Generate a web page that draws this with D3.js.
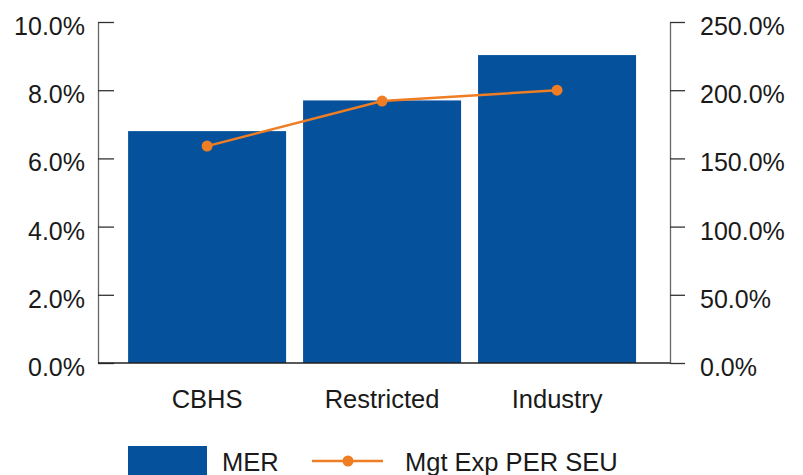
<!DOCTYPE html>
<html>
<head>
<meta charset="utf-8">
<script src="https://cdn.jsdelivr.net/npm/d3@7"></script>
<style>
  body { margin: 0; background: #fff; }
  svg text { font-family: "Liberation Sans", Arial, sans-serif; fill: #1a1a1a; }
</style>
</head>
<body>
<div id="chart-area"></div>
<script>

// Chart data
var categories = ["CBHS", "Restricted", "Industry"];
var merValues = [6.8, 7.7, 9.03];          // left axis, %
var mgtExpValues = [159, 192, 200];        // right axis, %
var leftTicks = [0, 2, 4, 6, 8, 10];
var rightTicks = [0, 50, 100, 150, 200, 250];
var seriesNames = ["MER", "Mgt Exp PER SEU"];

var width = 803,
	height = 475;

var blue = "#05519b",
	orange = "#ee7d24";

var svg = d3.select("#chart-area").append("svg")
	.attr("width", width)
	.attr("height", height);

// plot area edges
var plotLeft = 98, plotRight = 670, plotTop = 22, plotBottom = 363;

var x = d3.scaleBand()
	.domain(categories)
	.range([plotLeft, plotRight])
	.paddingInner(0.097)
	.paddingOuter(0.183)
	.align(0.47);

var yLeft = d3.scaleLinear().domain([0, 10]).range([plotBottom, plotTop]);
var yRight = d3.scaleLinear().domain([0, 250]).range([plotBottom, plotTop]);

var fmt = function(d) { return d3.format(".1f")(d) + "%"; };

// Bars
svg.selectAll("rect.bar")
	.data(merValues)
	.enter()
	.append("rect")
	.attr("class", "bar")
	.attr("x", function(d, i) { return x(categories[i]); })
	.attr("y", function(d) { return yLeft(d); })
	.attr("width", x.bandwidth())
	.attr("height", function(d) { return yLeft(0) - yLeft(d); })
	.attr("fill", blue);

// Left axis (ticks point into the plot)
var leftAxis = svg.append("g")
	.attr("transform", "translate(" + plotLeft + ",0)")
	.call(d3.axisLeft(yLeft).tickValues(leftTicks).tickFormat(fmt)
		.tickSize(-16).tickSizeOuter(0).tickPadding(13));

// Right axis
var rightAxis = svg.append("g")
	.attr("transform", "translate(" + plotRight + ",0)")
	.call(d3.axisRight(yRight).tickValues(rightTicks).tickFormat(fmt)
		.tickSize(15).tickSizeOuter(0).tickPadding(15));

[leftAxis, rightAxis].forEach(function(g) {
	g.select(".domain").attr("stroke", "#666").attr("stroke-width", 1.3);
	g.selectAll(".tick line").attr("stroke", "#333").attr("stroke-width", 1.3);
	g.selectAll(".tick text")
		.attr("font-size", "25px")
		.attr("fill", "#1a1a1a")
		.attr("dy", "0.5em")
		.style("font-family", "'Liberation Sans', Arial, sans-serif");
});

// Baseline
svg.append("line")
	.attr("x1", plotLeft)
	.attr("x2", plotRight)
	.attr("y1", yLeft(0))
	.attr("y2", yLeft(0))
	.attr("stroke", "#222")
	.attr("stroke-width", 1.5);

// Category labels
svg.selectAll("text.cat")
	.data(categories)
	.enter()
	.append("text")
	.attr("class", "cat")
	.attr("x", function(d) { return x(d) + x.bandwidth() / 2; })
	.attr("y", 408)
	.attr("text-anchor", "middle")
	.attr("font-size", "25.5px")
	.text(function(d) { return d; });

// Line series
var line = d3.line()
	.x(function(d, i) { return x(categories[i]) + x.bandwidth() / 2; })
	.y(function(d) { return yRight(d); });

svg.append("path")
	.datum(mgtExpValues)
	.attr("d", line)
	.attr("fill", "none")
	.attr("stroke", orange)
	.attr("stroke-width", 2.5);

svg.selectAll("circle.pt")
	.data(mgtExpValues)
	.enter()
	.append("circle")
	.attr("class", "pt")
	.attr("cx", function(d, i) { return x(categories[i]) + x.bandwidth() / 2; })
	.attr("cy", function(d) { return yRight(d); })
	.attr("r", 5.5)
	.attr("fill", orange);

// Legend
var legend = svg.append("g");

legend.append("rect")
	.attr("x", 128)
	.attr("y", 446)
	.attr("width", 79)
	.attr("height", 40)
	.attr("fill", blue);

legend.append("text")
	.attr("x", 222)
	.attr("y", 471)
	.attr("font-size", "25.5px")
	.text(seriesNames[0]);

legend.append("line")
	.attr("x1", 312)
	.attr("x2", 383)
	.attr("y1", 461)
	.attr("y2", 461)
	.attr("stroke", orange)
	.attr("stroke-width", 2.5);

legend.append("circle")
	.attr("cx", 348)
	.attr("cy", 461)
	.attr("r", 5.5)
	.attr("fill", orange);

legend.append("text")
	.attr("x", 405)
	.attr("y", 471)
	.attr("font-size", "25.5px")
	.text(seriesNames[1]);

</script>
</body>
</html>
